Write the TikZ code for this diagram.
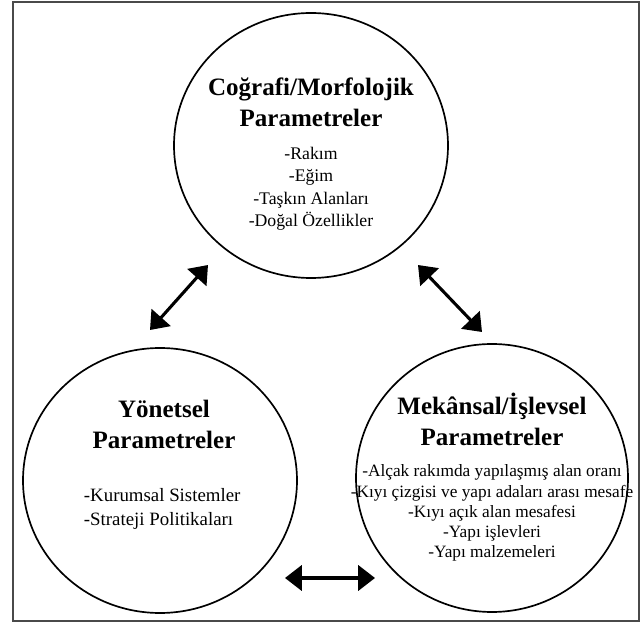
\documentclass[tikz,border=0pt]{standalone}
\usepackage{fontspec}
\setmainfont{Liberation Serif}
\usetikzlibrary{arrows.meta,shapes.geometric}
\definecolor{FrameClr}{rgb}{0.29,0.29,0.29}

\tikzset{
  param/.style={ellipse,draw=black,line width=1.2pt,inner sep=0pt},
  ptitle/.style={align=center,font=\fontsize{17.8}{22}\selectfont\bfseries},
  plist/.style={font=\fontsize{12.6}{16}\selectfont},
  link/.style={line width=2.2pt,{Triangle[length=4.2mm,width=6.3mm]}-{Triangle[length=4.2mm,width=6.3mm]}}
}

\begin{document}
\begin{tikzpicture}[x=0.025cm,y=-0.025cm]
\useasboundingbox (0,0) rectangle (641,623);
\draw[FrameClr,line width=1.5pt] (13,2) rectangle (639,621);

\node[param,minimum width=274*0.025cm,minimum height=265*0.025cm] (cog) at (311,145.5) {};
\node[param,minimum width=274*0.025cm,minimum height=265*0.025cm] (yon) at (160,480.5) {};
\node[param,minimum width=272*0.025cm,minimum height=268*0.025cm] (mek) at (492,478) {};

\node[ptitle] (cogT) at (311,102) {Coğrafi/Morfolojik\\Parametreler};
\node[plist,align=center] (cogL) at (311,189) {-Rakım\\-Eğim\\-Taşkın Alanları\\-Doğal Özellikler};

\node[ptitle] (yonT) at (164,424) {Yönetsel\\Parametreler};
\node[plist,align=left,anchor=west,font=\fontsize{13.4}{16.5}\selectfont] (yonL) at (79,509) {-Kurumsal Sistemler\\-Strateji Politikaları};

\node[ptitle] (mekT) at (492,419) {Mekânsal/İşlevsel\\Parametreler};
\node[align=center,font=\fontsize{12.3}{14.3}\selectfont] (mekL) at (492,513) {-Alçak rakımda yapılaşmış alan oranı\\-Kıyı çizgisi ve yapı adaları arası mesafe\\-Kıyı açık alan mesafesi\\-Yapı işlevleri\\-Yapı malzemeleri};

\coordinate (a1) at (150,330);
\coordinate (b1) at (208,265);
\coordinate (a2) at (418,265);
\coordinate (b2) at (482,332);
\coordinate (a3) at (285,578);
\coordinate (b3) at (375,578);
\draw[link] (a1) -- (b1);
\draw[link] (a2) -- (b2);
\draw[link] (a3) -- (b3);
\end{tikzpicture}
\end{document}
